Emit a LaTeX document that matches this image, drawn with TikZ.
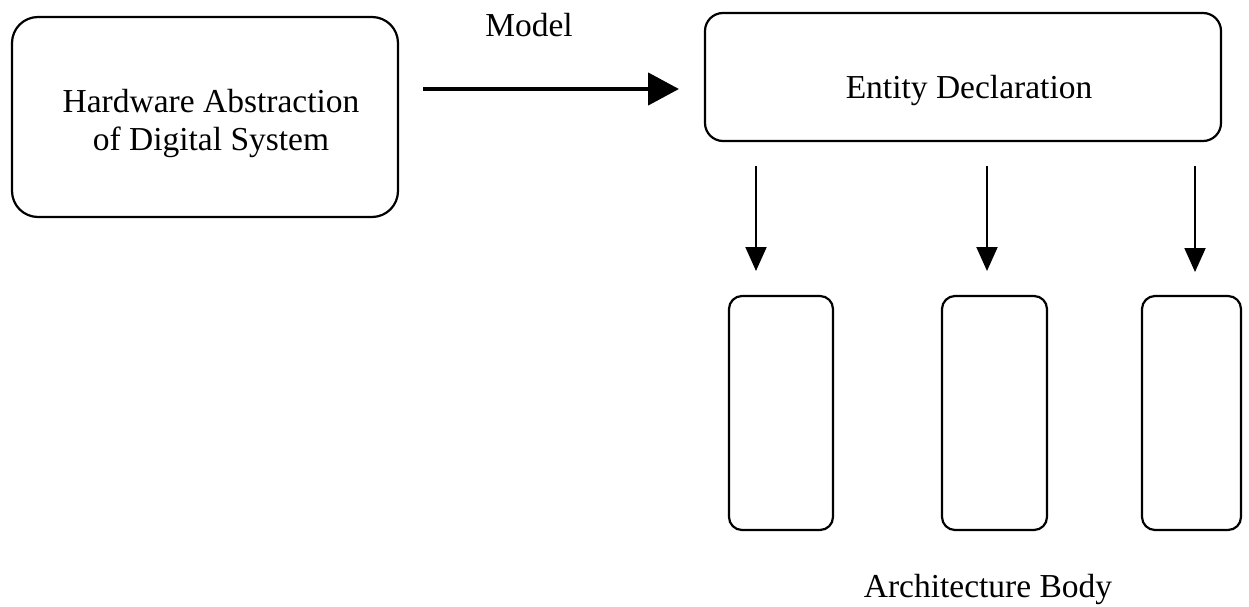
\documentclass[tikz,border=0pt]{standalone}
\usepackage{fontspec}
\setmainfont{Liberation Serif}
\usetikzlibrary{arrows.meta}
\begin{document}
\begin{tikzpicture}[x=1pt,y=-1pt,
  txt/.style={font=\fontsize{33.5}{38}\selectfont, inner sep=0pt},
  box/.style={draw, line width=2.2pt, rounded corners=#1, inner sep=0pt},
  box/.default=14pt,
  bigarrow/.style={line width=4.5pt, -{Triangle[length=31pt,width=32pt]}},
  downarrow/.style={line width=2pt, -{Triangle[length=24pt,width=21pt]}}]
  \useasboundingbox (0,0) rectangle (1249,607);
  % source box and entity box
  \node[box=26pt, minimum width=386pt, minimum height=200pt] (hw) at (205,117) {};
  \node[txt, align=center] (hwtext) at (211,123) {Hardware Abstraction\\of Digital System};
  \node[box=18pt, minimum width=516pt, minimum height=128pt] (ent) at (963,77) {};
  \node[txt, anchor=base] (enttext) at (969,99) {Entity Declaration};
  % model arrow
  \coordinate (ms) at (423,89);
  \coordinate (me) at (679,89);
  \draw[bigarrow] (ms) -- (me);
  \node[txt, anchor=base] (model) at (529,37) {Model};
  % architecture bodies
  \node[box=13pt, minimum width=104pt, minimum height=234pt] (a1) at (781,413) {};
  \node[box=13pt, minimum width=105pt, minimum height=234pt] (a2) at (994.5,413) {};
  \node[box=13pt, minimum width=99pt, minimum height=234pt] (a3) at (1191.5,413) {};
  \coordinate (t1) at (756,166);
  \coordinate (t2) at (987,166);
  \coordinate (t3) at (1195,166);
  \coordinate (h1) at (756,271);
  \coordinate (h2) at (987,271);
  \coordinate (h3) at (1195,272);
  \draw[downarrow] (t1) -- (h1);
  \draw[downarrow] (t2) -- (h2);
  \draw[downarrow] (t3) -- (h3);
  \node[txt, anchor=base] (arch) at (988,597) {Architecture Body};
\end{tikzpicture}
\end{document}
